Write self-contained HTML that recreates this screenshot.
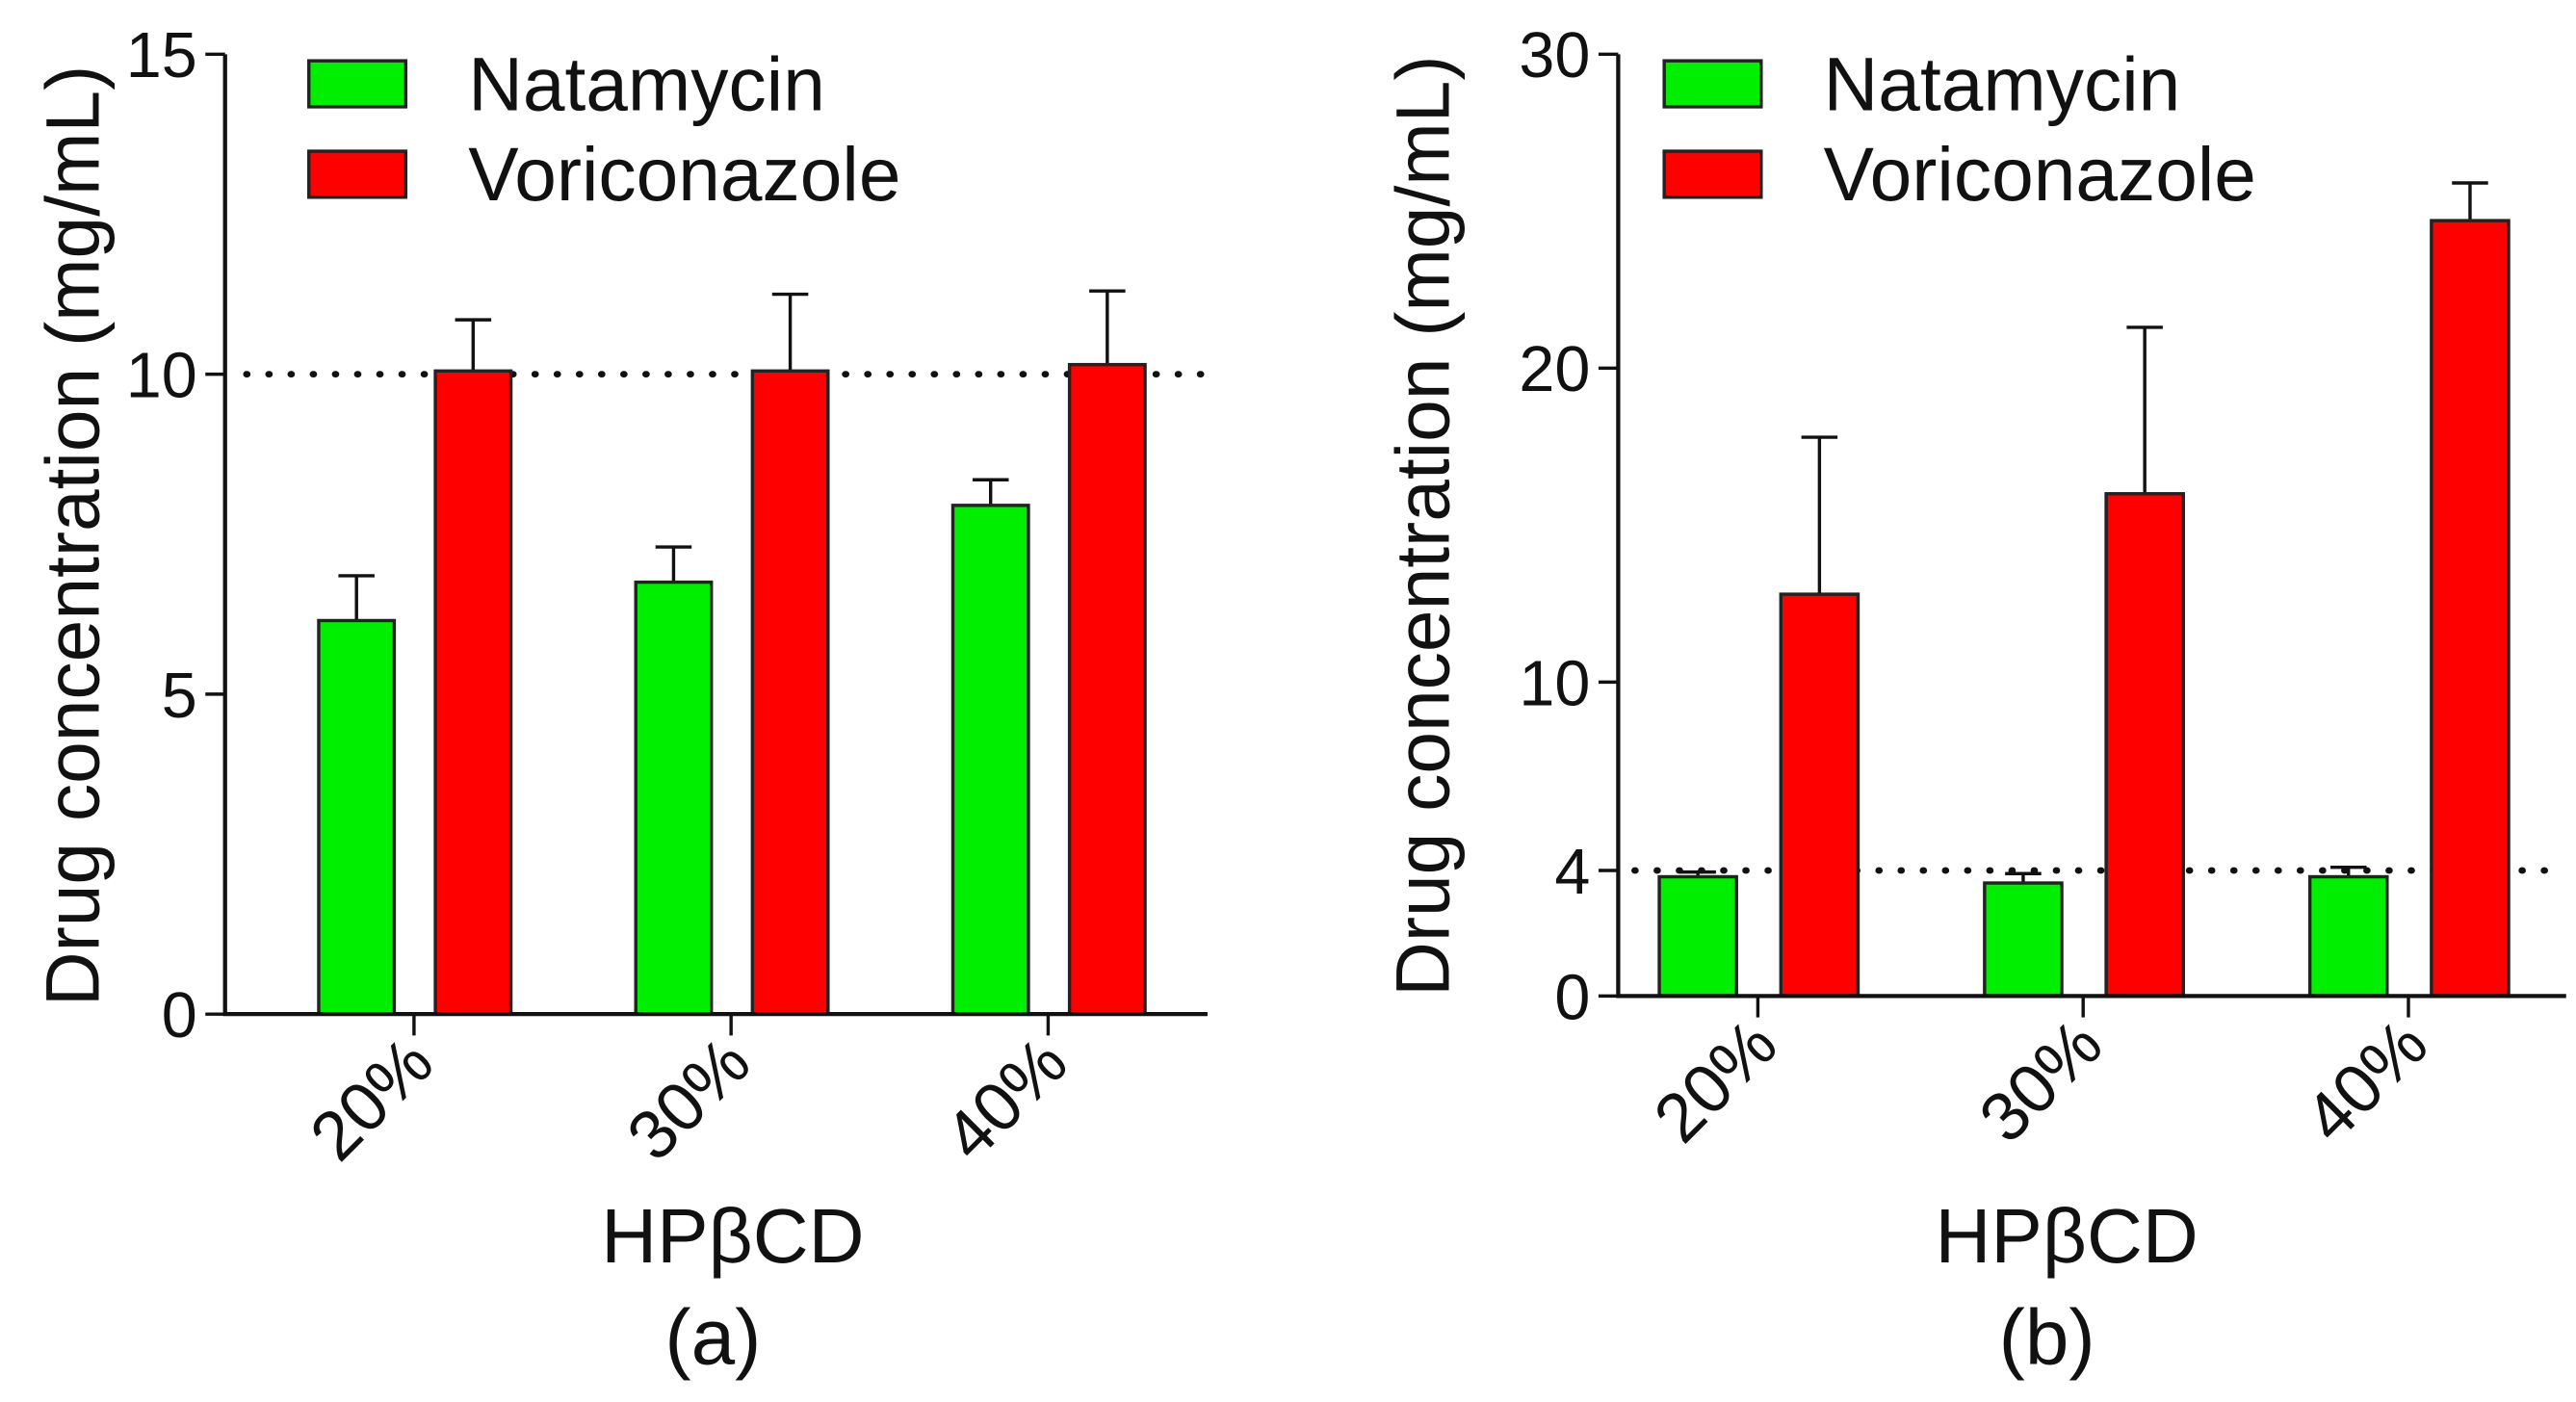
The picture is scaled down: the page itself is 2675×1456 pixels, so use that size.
<!DOCTYPE html>
<html><head><meta charset="utf-8"><style>
html,body{margin:0;padding:0;background:#fff;}
svg{display:block;}
text{font-family:"Liberation Sans",Arial,sans-serif;fill:#111;}
</style></head><body>
<svg id="chart" width="2675" height="1456" viewBox="0 0 1568 853" preserveAspectRatio="none" xmlns="http://www.w3.org/2000/svg"></svg>
<script>
const categories = ["20%", "30%", "40%"];
const natA = [6.15, 6.75, 7.95];
const natAErr = [0.7, 0.55, 0.4];
const vorA = [10.05, 10.05, 10.15];
const vorAErr = [0.8, 1.2, 1.15];
const ticksA = [0, 5, 10, 15];
const refA = 10;
const natB = [3.8, 3.6, 3.8];
const natBErr = [0.15, 0.3, 0.3];
const vorB = [12.8, 16.0, 24.7];
const vorBErr = [5.0, 5.3, 1.2];
const ticksB = [0, 4, 10, 20, 30];
const refB = 4;

const NS = "http://www.w3.org/2000/svg";
const svg = document.getElementById("chart");
function mk(tag, attrs, parent, txt) {
  const e = document.createElementNS(NS, tag);
  for (const k in attrs) e.setAttribute(k, attrs[k]);
  if (txt !== undefined) e.textContent = txt;
  (parent || svg).appendChild(e);
  return e;
}

function panel(p) {
  const g = mk("g", {});
  
  
  const y = v => p.y0 + (p.yTop - p.y0) * (v / p.max);
  const ref = mk("line", {x1: p.refX1, x2: p.xEnd, y1: y(p.ref), y2: y(p.ref), stroke: "#111", "stroke-width": 4, "stroke-dasharray": "0.5 13", "stroke-linecap": "round"}, g);
  
  
  for (let i = 0; i < categories.length; i++) {
    const gx = p.gx0 + i * p.step;
    const rx = gx + p.rOff;
    [[gx, p.nat[i], p.natErr[i], "#00ee00", "natamycin"], [rx, p.vor[i], p.vorErr[i], "#ff0000", "voriconazole"]].forEach(([x, v, e, c, n]) => {
      const er = mk("path", {d: `M${x + p.bw / 2},${y(v)}V${y(v + e)}M${x + p.bw / 2 - 11},${y(v + e)}H${x + p.bw / 2 + 11}`, stroke: "#111", "stroke-width": 2, fill: "none"}, g);
      
      
      const r = mk("rect", {x: x, y: y(v), width: p.bw, height: p.y0 - y(v), fill: c, stroke: "#222", "stroke-width": 2}, g);
      
      
    });
    const tx = p.tick0 + i * p.step;
    const tk = mk("line", {x1: tx, x2: tx, y1: p.y0, y2: p.y0 + 13, stroke: "#111", "stroke-width": 2}, g);
    
    
    const tl = mk("text", {x: 0, y: 0, "font-size": 42, "text-anchor": "end", transform: `translate(${tx + 14},${p.y0 + 32}) rotate(-45)`}, g, categories[i]);
    
    
  }
  const ax = mk("path", {d: `M${p.ax},${p.yTop}V${p.y0}H${p.xEnd}`, stroke: "#111", "stroke-width": 2.5, fill: "none"}, g);
  
  
  p.ticks.forEach(t => {
    const l = mk("line", {x1: p.ax - 12, x2: p.ax, y1: y(t), y2: y(t), stroke: "#111", "stroke-width": 2}, g);
    
    
    const tt = mk("text", {x: p.ax - 17, y: y(t) + 14, "font-size": 39, "text-anchor": "end"}, g, String(t));
    
    
  });
  const yl = mk("text", {x: 0, y: 0, "font-size": 46, "text-anchor": "middle", transform: `translate(${p.ylx},${p.yly}) rotate(-90)`}, g, "Drug concentration (mg/mL)");
  
  
  const xl = mk("text", {x: p.xlx, y: 768, "font-size": 47, "text-anchor": "middle"}, g, "HPβCD");
  
  
  const pl = mk("text", {x: p.xlx - 12, y: 830, "font-size": 48, "text-anchor": "middle"}, g, p.label);
  
  
  [["Natamycin", "#00ee00", 37], ["Voriconazole", "#ff0000", 92]].forEach(([t, c, ly]) => {
    const lr = mk("rect", {x: p.legX, y: ly, width: 59, height: 28, fill: c, stroke: "#222", "stroke-width": 2}, g);
    
    
    const lt = mk("text", {x: p.legX + 97, y: ly + 30, "font-size": 46}, g, t);
    
    
  });
}

panel({name: "panel-a", y0: 617, yTop: 33, max: 15, ax: 137, xEnd: 735, refX1: 150, ref: refA,
  gx0: 194, rOff: 71, step: 193, bw: 46, tick0: 252, nat: natA, natErr: natAErr, vor: vorA, vorErr: vorAErr,
  ticks: ticksA, ylx: 60, yly: 326, xlx: 446, label: "(a)", legX: 188});
panel({name: "panel-b", y0: 606, yTop: 33, max: 30, ax: 985, xEnd: 1562, refX1: 995, ref: refB,
  gx0: 1010, rOff: 74, step: 198, bw: 47, tick0: 1070, nat: natB, natErr: natBErr, vor: vorB, vorErr: vorBErr,
  ticks: ticksB, ylx: 882, yly: 320, xlx: 1258, label: "(b)", legX: 1013});
</script>
</body></html>
